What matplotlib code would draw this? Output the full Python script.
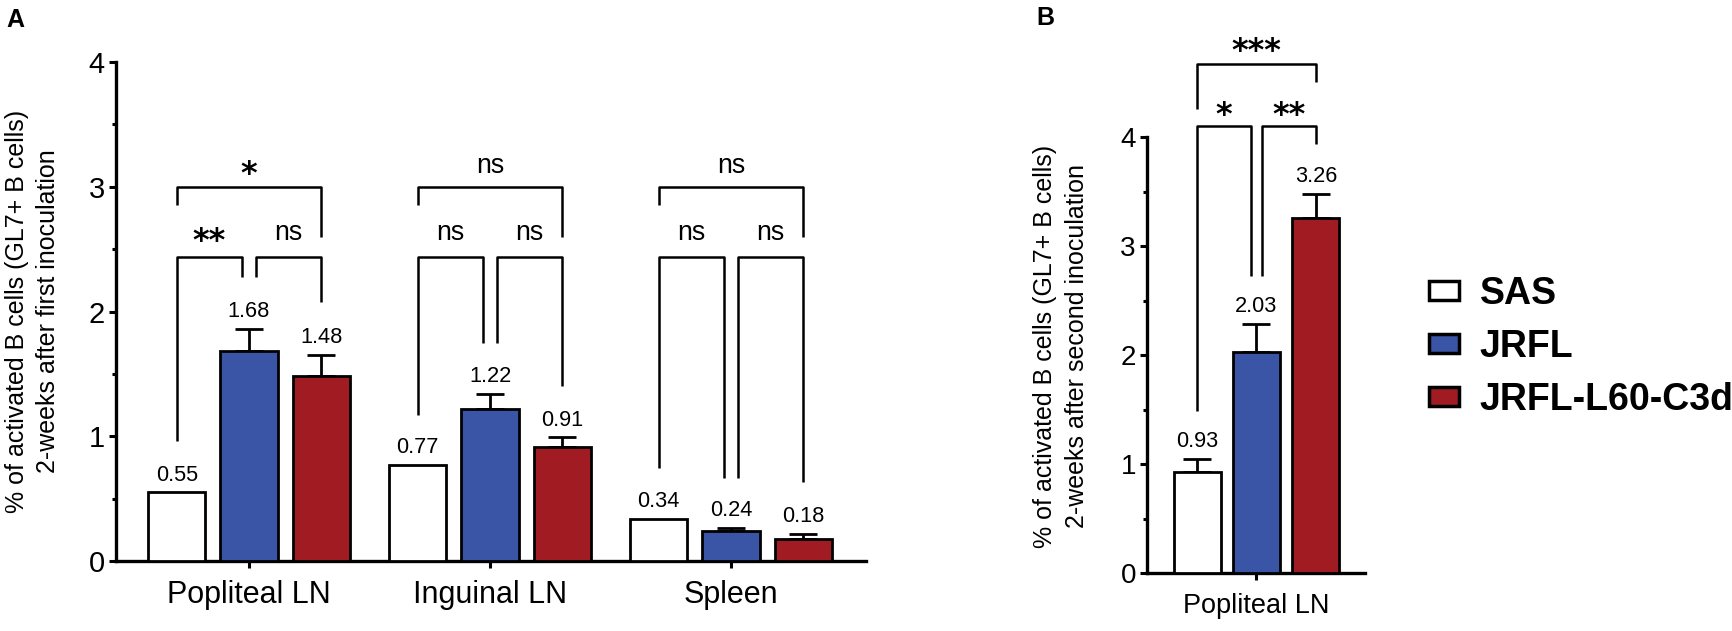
import matplotlib
matplotlib.use("Agg")
import matplotlib.pyplot as plt
from matplotlib.patches import Patch
from matplotlib.ticker import MultipleLocator
import numpy as np

plt.rcParams['font.family'] = ['Liberation Sans', 'DejaVu Sans']

# ---------------- data ----------------
groups = ["SAS", "JRFL", "JRFL-L60-C3d"]
colors = ["#FFFFFF", "#3A54A6", "#A11B22"]

tissues_A = ["Popliteal LN", "Inguinal LN", "Spleen"]
sas_A = [0.55, 0.77, 0.34]
jrfl_A = [1.68, 1.22, 0.24]
c3d_A = [1.48, 0.91, 0.18]
sas_A_err = [0.0, 0.0, 0.0]
jrfl_A_err = [0.18, 0.12, 0.025]
c3d_A_err = [0.17, 0.08, 0.035]

tissues_B = ["Popliteal LN"]
values_B = [0.93, 2.03, 3.26]
err_B = [0.12, 0.26, 0.22]

ylabel_A = "% of activated B cells (GL7+ B cells)\n2-weeks after first inoculation"
ylabel_B = "% of activated B cells (GL7+ B cells)\n2-weeks after second inoculation"

# significance: (group, bar_i, bar_j, y, leg_i_bottom, leg_j_bottom, label, level)
sig_A = [
    (0, 0, 2, 3.00, 2.85, 2.60, "*", "top"),
    (0, 0, 1, 2.44, 0.96, 2.28, "**", "low"),
    (0, 1, 2, 2.44, 2.28, 2.08, "ns", "low"),
    (1, 0, 2, 3.00, 2.85, 2.60, "ns", "top"),
    (1, 0, 1, 2.44, 1.17, 1.75, "ns", "low"),
    (1, 1, 2, 2.44, 1.75, 1.40, "ns", "low"),
    (2, 0, 2, 3.00, 2.85, 2.60, "ns", "top"),
    (2, 0, 1, 2.44, 0.745, 0.665, "ns", "low"),
    (2, 1, 2, 2.44, 0.665, 0.63, "ns", "low"),
]
sig_B = [
    (0, 0, 2, 4.67, 4.26, 4.50, "***", "top"),
    (0, 0, 1, 4.10, 1.49, 2.73, "*", "low"),
    (0, 1, 2, 4.10, 2.73, 3.94, "**", "low"),
]

# ---------------- layout ----------------
W, H = 1732, 631
fig = plt.figure(figsize=(W / 100, H / 100), dpi=100)

axA = fig.add_axes([116 / W, 70 / H, 750 / W, 499 / H])
axB = fig.add_axes([1147 / W, 57.6 / H, 218 / W, 436.4 / H])

pitch = 0.30
bw = 0.238
inner = 0.029
lw_axis = 2.4


def style_axis(ax, ylim_top, tick_fs, cat_fs, cat_labels, xlim):
    ax.set_ylim(0, ylim_top)
    ax.set_xlim(*xlim)
    for s in ["top", "right"]:
        ax.spines[s].set_visible(False)
    ax.spines["left"].set_linewidth(lw_axis)
    ax.spines["bottom"].set_linewidth(lw_axis)
    ax.yaxis.set_major_locator(MultipleLocator(1))
    ax.yaxis.set_minor_locator(MultipleLocator(0.5))
    ax.tick_params(axis="y", which="major", length=5, width=2.2, pad=3,
                   labelsize=tick_fs)
    ax.tick_params(axis="y", which="minor", length=3, width=2.2)
    ax.set_xticks(np.arange(len(cat_labels)))
    ax.set_xticklabels(cat_labels, fontsize=cat_fs)
    ax.tick_params(axis="x", which="major", length=5, width=2.2, pad=9)


def draw_group(ax, vals_by_group, errs_by_group, label_fs):
    n = len(vals_by_group[0])
    x = np.arange(n)
    for gi in range(3):
        xs = x + (gi - 1) * pitch
        ax.bar(xs, vals_by_group[gi], width=bw, color=colors[gi],
               edgecolor="black", linewidth=2, zorder=3)
        errs = errs_by_group[gi]
        for xi, v, e in zip(xs, vals_by_group[gi], errs):
            if e > 0:
                ax.errorbar(xi, v, yerr=[[0], [e]], fmt="none", ecolor="black",
                            elinewidth=2, capsize=10, capthick=2, zorder=2)
            ax.annotate(f"{v:.2f}", (xi, v + e), xytext=(0, 12.5),
                        textcoords="offset points", ha="center", va="center",
                        fontsize=label_fs)


def draw_sig(ax, sigs, txt_fs, star_fs, top_off, low_off, star_shift):
    for g, i, j, y, lb_i, lb_j, lab, lvl in sigs:
        xi = g + (i - 1) * pitch
        xj = g + (j - 1) * pitch
        if lvl == "low":
            if i == 1:
                xi += inner
            if j == 1:
                xj -= inner
        ax.plot([xi, xi, xj, xj], [lb_i, y, y, lb_j], color="black",
                lw=1.8, solid_capstyle="butt", clip_on=False, zorder=4)
        off = top_off if lvl == "top" else low_off
        if "*" in lab:
            ax.text((xi + xj) / 2, y + off - star_shift,
                    lab, ha="center", va="center", fontsize=star_fs,
                    fontweight="bold", family=["DejaVu Sans"], clip_on=False)
        else:
            ax.text((xi + xj) / 2, y + off, lab, ha="center", va="center",
                    fontsize=txt_fs, clip_on=False)


# ---------------- panel A ----------------
style_axis(axA, 4, 21, 22, tissues_A, (-0.552, 2.56))
draw_group(axA, [sas_A, jrfl_A, c3d_A], [sas_A_err, jrfl_A_err, c3d_A_err], 15.7)
draw_sig(axA, sig_A, 19.3, 23, 0.17, 0.19, 0.07)
axA.set_ylabel(ylabel_A, fontsize=18, linespacing=1.42)
axA.yaxis.set_label_coords(-0.074, 0.5)

# ---------------- panel B ----------------
style_axis(axB, 4, 20, 19.5, tissues_B, (-0.553, 0.548))
draw_group(axB, [[values_B[0]], [values_B[1]], [values_B[2]]],
           [[err_B[0]], [err_B[1]], [err_B[2]]], 15.7)
draw_sig(axB, sig_B, 19.3, 23, 0.17, 0.16, 0.06)
axB.set_ylabel(ylabel_B, fontsize=18, linespacing=1.42)
axB.yaxis.set_label_coords(-0.265, 0.52)

# panel letters
fig.text(6 / W, 1 - 8 / H, "A", fontsize=18, fontweight="bold", ha="left", va="top")
fig.text(1036 / W, 1 - 6 / H, "B", fontsize=18, fontweight="bold", ha="left", va="top")

# legend
handles = [Patch(facecolor=c, edgecolor="black", linewidth=2.5) for c in colors]
fig.legend(handles, groups, loc="center left", bbox_to_anchor=(1429 / W, 1 - 347 / H),
           frameon=False, prop={"weight": "bold", "size": 27}, handlelength=0.8,
           handleheight=0.42, handletextpad=0.55, labelspacing=0.45, borderpad=0,
           borderaxespad=0)

fig.savefig("out.png", dpi=100)
